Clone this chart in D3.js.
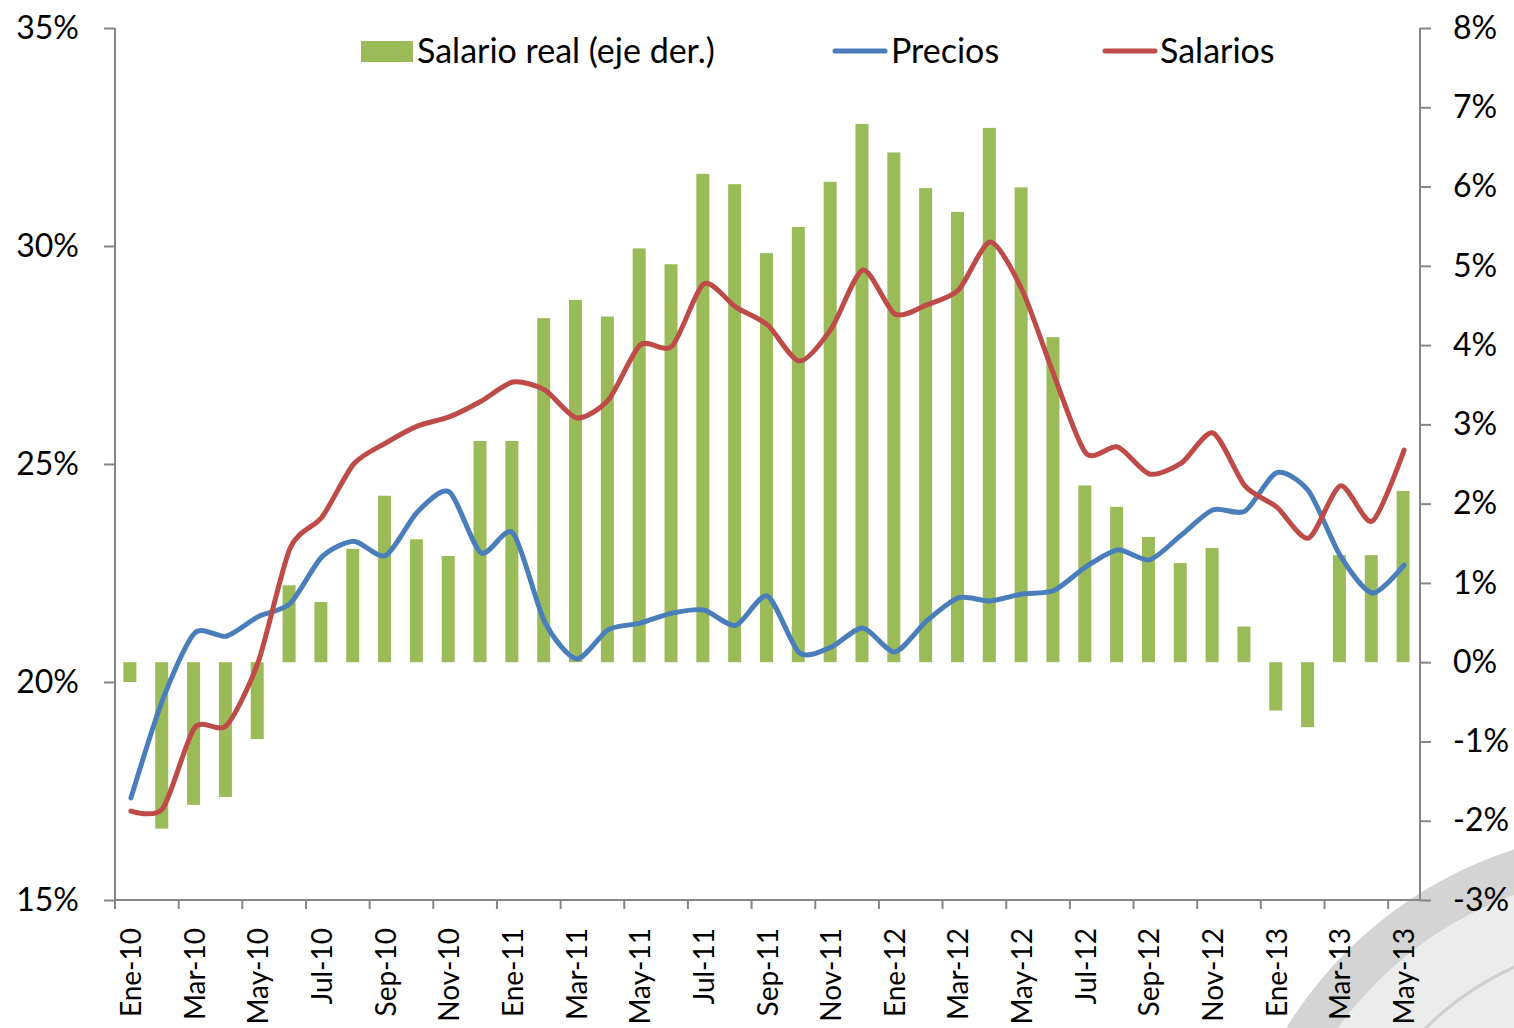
<!DOCTYPE html>
<html>
<head>
<meta charset="utf-8">
<script src="https://cdn.jsdelivr.net/npm/d3@7"></script>
<style>
  body { margin: 0; background: #fff; }
  svg { display: block; font-family: Lato, "Open Sans", sans-serif; }
</style>
</head>
<body>
<svg id="chart" width="1514" height="1028"></svg>
<script>
// months, Ene-10 .. May-13
const months = [
  'Ene-10','Feb-10','Mar-10','Abr-10','May-10','Jun-10','Jul-10','Ago-10','Sep-10','Oct-10','Nov-10','Dic-10',
  'Ene-11','Feb-11','Mar-11','Abr-11','May-11','Jun-11','Jul-11','Ago-11','Sep-11','Oct-11','Nov-11','Dic-11',
  'Ene-12','Feb-12','Mar-12','Abr-12','May-12','Jun-12','Jul-12','Ago-12','Sep-12','Oct-12','Nov-12','Dic-12',
  'Ene-13','Feb-13','Mar-13','Abr-13','May-13'
];

// salario real, right axis (%)
const salarioReal = [
  -0.25, -2.1, -1.8, -1.7, -0.97, 0.97, 0.76, 1.43, 2.1, 1.55, 1.34, 2.79,
  2.79, 4.34, 4.57, 4.36, 5.22, 5.02, 6.16, 6.03, 5.16, 5.49, 6.06, 6.79,
  6.43, 5.98, 5.68, 6.74, 5.99, 4.1, 2.23, 1.96, 1.58, 1.25, 1.44, 0.45,
  -0.61, -0.82, 1.35, 1.35, 2.16
];

// left axis (%)
const precios = [
  17.34, 19.6, 21.12, 21.05, 21.5, 21.8, 22.87, 23.23, 22.9, 23.9, 24.36, 22.96,
  23.42, 21.38, 20.53, 21.2, 21.35, 21.58, 21.65, 21.3, 21.97, 20.67, 20.8, 21.24,
  20.69, 21.4, 21.93, 21.86, 22.02, 22.1, 22.64, 23.03, 22.8, 23.37, 23.95, 23.92,
  24.8, 24.38, 22.89, 22.04, 22.68
];

const salarios = [
  17.04, 17.1, 18.95, 19.0, 20.46, 23.07, 23.78, 25.0, 25.48, 25.87, 26.08, 26.44,
  26.88, 26.7, 26.06, 26.47, 27.73, 27.7, 29.13, 28.6, 28.19, 27.36, 28.1, 29.45,
  28.44, 28.65, 28.99, 30.09, 28.99, 27.04, 25.25, 25.39, 24.77, 25.02, 25.71, 24.5,
  24.01, 23.3, 24.5, 23.69, 25.32
];

const leftTicks = [15, 20, 25, 30, 35];
const rightTicks = [-3, -2, -1, 0, 1, 2, 3, 4, 5, 6, 7, 8];

const svg = d3.select('#chart');
const plotLeft = 115, plotRight = 1420, plotTop = 28, plotBottom = 900;

// watermark swoosh in the corner
const wm = svg.append('g');
wm.append('circle').attr('cx', 1640).attr('cy', 1245).attr('r', 415).attr('fill', '#d4d4d4');
wm.append('circle').attr('cx', 1640).attr('cy', 1245).attr('r', 372).attr('fill', '#ececec');
wm.append('circle').attr('cx', 1640).attr('cy', 1245).attr('r', 305).attr('fill', 'none')
  .attr('stroke', '#d0d0d0').attr('stroke-width', 3);

const x = d3.scaleBand().domain(months).range([plotLeft, plotRight]);
const yL = d3.scaleLinear().domain([15, 35]).range([plotBottom, plotTop]);
const yR = d3.scaleLinear().domain([-3, 8]).range([plotBottom, plotTop]);

// bars
const barW = 13;
svg.append('g').selectAll('rect')
  .data(salarioReal)
  .enter()
  .append('rect')
  .attr('x', (d, i) => x(months[i]) + x.bandwidth() / 2 - barW / 2 - 1)
  .attr('width', barW)
  .attr('y', (d) => Math.min(yR(d), yR(0)))
  .attr('height', (d) => Math.abs(yR(d) - yR(0)))
  .style('fill', '#9bbb59');

// lines
const line = (vals) => d3.line()
  .x((d, i) => x(months[i]) + x.bandwidth() / 2)
  .y((d) => yL(d))
  .curve(d3.curveCardinal.tension(0.25))(vals);

svg.append('path').attr('d', line(precios))
  .attr('fill', 'none').attr('stroke', '#4a7ebb').attr('stroke-width', 5)
  .attr('stroke-linecap', 'round');
svg.append('path').attr('d', line(salarios))
  .attr('fill', 'none').attr('stroke', '#be4b48').attr('stroke-width', 5)
  .attr('stroke-linecap', 'round');

// axes
const axisColor = '#868686';
const leftAxis = svg.append('g')
  .attr('transform', `translate(${plotLeft},0)`)
  .call(d3.axisLeft(yL).tickValues(leftTicks).tickFormat((d) => d + '%').tickSize(11).tickPadding(25));
const rightAxis = svg.append('g')
  .attr('transform', `translate(${plotRight},0)`)
  .call(d3.axisRight(yR).tickValues(rightTicks).tickFormat((d) => d + '%').tickSize(11).tickPadding(22));

// x axis: ticks every 2 months on band edges, labels at centers
const xg = svg.append('g');
xg.append('line').attr('x1', plotLeft).attr('x2', plotRight).attr('y1', plotBottom).attr('y2', plotBottom)
  .attr('stroke', axisColor).attr('stroke-width', 2);
const tickIdx = d3.range(0, months.length, 2);
xg.selectAll('line.tick')
  .data(tickIdx)
  .enter()
  .append('line')
  .attr('class', 'tick')
  .attr('x1', (i) => x(months[i])).attr('x2', (i) => x(months[i]))
  .attr('y1', plotBottom).attr('y2', plotBottom + 9)
  .attr('stroke', axisColor).attr('stroke-width', 2);
xg.selectAll('text')
  .data(tickIdx)
  .enter()
  .append('text')
  .attr('transform', (i) => `translate(${x(months[i]) + x.bandwidth() / 2 + 10},${plotBottom + 28}) rotate(-90)`)
  .attr('text-anchor', 'end')
  .style('font-size', '28px')
  .style('fill', '#000')
  .text((i) => months[i]);

[leftAxis, rightAxis].forEach((g) => {
  g.select('.domain').attr('stroke', axisColor).attr('stroke-width', 2);
  g.selectAll('.tick line').attr('stroke', axisColor).attr('stroke-width', 2);
  g.selectAll('.tick text').style('font-size', '32px').style('fill', '#000')
    .style('font-family', 'Lato, sans-serif');
});
leftAxis.select('.domain').attr('d', `M0,${plotBottom}V${plotTop}`);
rightAxis.select('.domain').attr('d', `M0,${plotBottom}V${plotTop}`);

// legend
const legend = svg.append('g').style('font-size', '34px');
legend.append('rect').attr('x', 361).attr('y', 41).attr('width', 52).attr('height', 21).style('fill', '#9bbb59');
legend.append('text').attr('x', 417).attr('y', 63).text('Salario real (eje der.)');
legend.append('line').attr('x1', 835).attr('x2', 885).attr('y1', 51).attr('y2', 51)
  .attr('stroke', '#4a7ebb').attr('stroke-width', 5).attr('stroke-linecap', 'round');
legend.append('text').attr('x', 891).attr('y', 63).text('Precios');
legend.append('line').attr('x1', 1105).attr('x2', 1155).attr('y1', 51).attr('y2', 51)
  .attr('stroke', '#be4b48').attr('stroke-width', 5).attr('stroke-linecap', 'round');
legend.append('text').attr('x', 1160).attr('y', 63).text('Salarios');
</script>
</body>
</html>
